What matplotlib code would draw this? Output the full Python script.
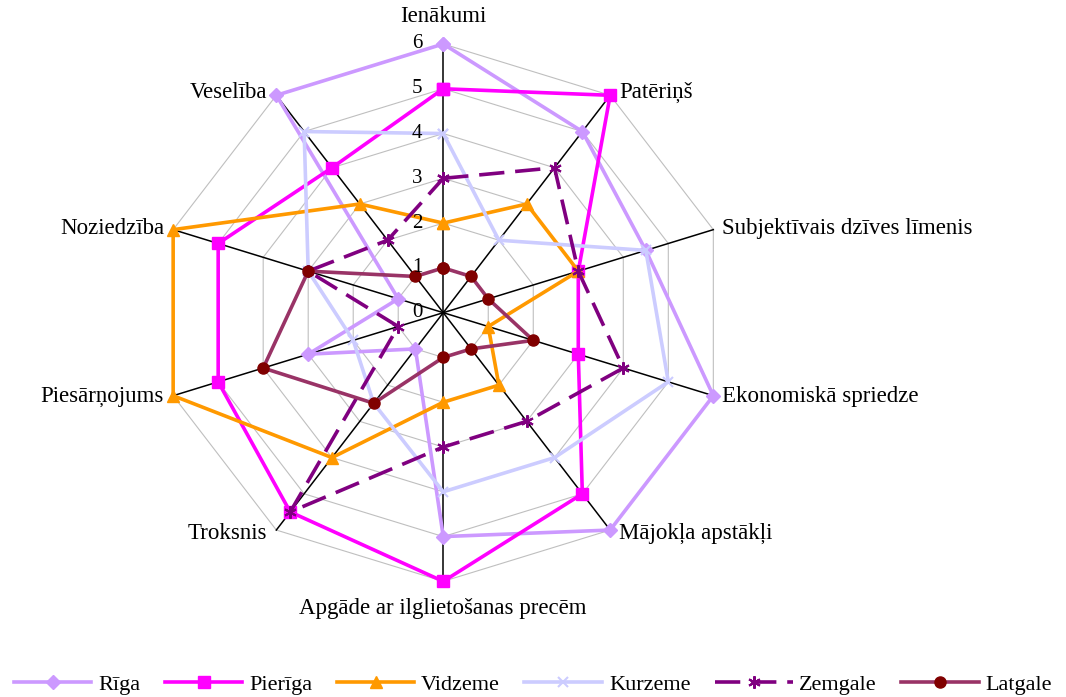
import numpy as np
import matplotlib
matplotlib.use("Agg")
import matplotlib.pyplot as plt
from matplotlib.transforms import offset_copy

plt.rcParams['font.family'] = ['Liberation Serif', 'DejaVu Serif']

categories = ["Ienākumi", "Patēriņš", "Subjektīvais dzīves līmenis", "Ekonomiskā spriedze",
              "Mājokļa apstākļi", "Apgāde ar ilglietošanas precēm", "Troksnis",
              "Piesārņojums", "Noziedzība", "Veselība"]

riga     = [6, 5, 4.5, 6, 6, 5, 1, 3, 1, 6]
pieriga  = [5, 6, 3, 3, 5, 6, 5.5, 5, 5, 4]
vidzeme  = [2, 3, 3, 1, 2, 2, 4, 6, 6, 3]
kurzeme  = [4, 2, 4.5, 5, 4, 4, 2.5, 2, 3, 5]
zemgale  = [3, 4, 3, 4, 3, 3, 5.5, 1, 3, 2]
latgale  = [1, 1, 1, 2, 1, 1, 2.5, 4, 3, 1]

series_names = ["Rīga", "Pierīga", "Vidzeme", "Kurzeme", "Zemgale", "Latgale"]
tick_values = [0, 1, 2, 3, 4, 5, 6]

fig = plt.figure(figsize=(10.66, 6.97), dpi=100)
ax = fig.add_axes([0.1494, 0.1659, 0.5328, 0.7710], projection='polar')
ax.set_aspect('auto')
ax.set_theta_zero_location('N')
ax.set_theta_direction(-1)
ax.set_ylim(0, 6)
ax.grid(False)
ax.set_xticks([])
ax.set_yticks([])
ax.spines['polar'].set_visible(False)
ax.patch.set_visible(False)

n = len(categories)
angles = np.linspace(0, 2 * np.pi, n, endpoint=False)
angles_c = np.concatenate([angles, angles[:1]])

# polygon gridlines
for r in tick_values[1:]:
    ax.plot(angles_c, [r] * (n + 1), color='#BFBFBF', lw=0.8, zorder=1, clip_on=False)
# spokes
for a in angles:
    ax.plot([a, a], [0, tick_values[-1]], color='black', lw=1.1, zorder=2, clip_on=False)

styles = [
    dict(color='#CC99FF', marker='D', ms=7, mfc='#CC99FF', mec='#CC99FF', ls='-'),
    dict(color='#FF00FF', marker='s', ms=8, mfc='#FF00FF', mec='#FF00FF', ls='-'),
    dict(color='#FF9900', marker='^', ms=9, mfc='#FF9900', mec='#FF9900', ls='-'),
    dict(color='#CCCCFF', marker='x', ms=7, mfc='#CCCCFF', mec='#CCCCFF', ls='-', mew=1.5),
    dict(color='#800080', marker=(6, 2, 0), ms=9, mfc='#800080', mec='#800080', ls=(0, (7, 3)), mew=1.5),
    dict(color='#993366', marker='o', ms=8, mfc='#800000', mec='#800000', ls='-'),
]
data = [riga, pieriga, vidzeme, kurzeme, zemgale, latgale]
for name, vals, st in zip(series_names, data, styles):
    v = list(vals) + [vals[0]]
    ax.plot(angles_c, v, lw=2.6, label=name, zorder=3, clip_on=False, **st)

# radial tick labels
tr = offset_copy(ax.transData, fig=fig, x=-26, y=0, units='dots')
for t in tick_values:
    ax.text(0, t, str(t), transform=tr, ha='center', va='center', fontsize=15, zorder=5)

# category labels
for a, lab in zip(angles, categories):
    s, c = np.sin(a), np.cos(a)
    if abs(s) < 0.01:
        ha = 'center'
        dx, dy = 0, 27 * np.sign(c)
    else:
        ha = 'left' if s > 0 else 'right'
        dx, dy = 9 * np.sign(s), 4 * c
    trl = offset_copy(ax.transData, fig=fig, x=dx, y=dy, units='dots')
    ax.text(a, tick_values[-1], lab, transform=trl, ha=ha, va='center', fontsize=16.5)

fig.legend(loc='center', bbox_to_anchor=(0.5, 0.018), ncol=6, frameon=False,
           fontsize=16, handlelength=3.5, handletextpad=0.3, columnspacing=1.1,
           numpoints=1, borderaxespad=0, borderpad=0)

fig.savefig('out.png', dpi=100)
